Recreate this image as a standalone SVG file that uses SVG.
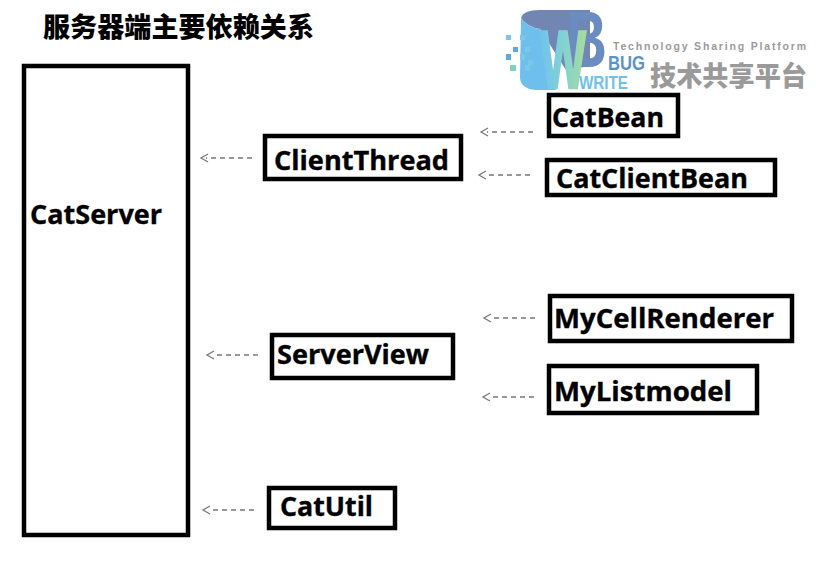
<svg xmlns="http://www.w3.org/2000/svg" width="816" height="585" viewBox="0 0 816 585">
<style>
.box{fill:#fff;stroke:#000;stroke-width:4.5}
.lbl{font-family:"Open Sans","Noto Sans",sans-serif;font-weight:700;fill:#000;stroke:#000;stroke-width:.35;font-size:26px}
.dep{fill:none;stroke:#777;stroke-width:1.4;stroke-dasharray:5 4}
.head{fill:none;stroke:#777;stroke-width:1.3}
.lg{font-family:"Liberation Sans",sans-serif;font-weight:700}
</style>
<defs>
<linearGradient id="w" gradientUnits="userSpaceOnUse" x1="540" y1="0" x2="586" y2="0"><stop offset="0" stop-color="#6fc3ee"/><stop offset="0.55" stop-color="#85d3d0"/><stop offset="1" stop-color="#a6dc9c"/></linearGradient>
</defs>
<rect width="816" height="585" fill="#fff"/>
<text x="43" y="37" style="font-family:'Noto Sans CJK SC',sans-serif;font-weight:900;font-size:27px" textLength="271" lengthAdjust="spacingAndGlyphs" fill="#000">服务器端主要依赖关系</text>

<g id="logo">
<path d="M521 18 Q523 10 540 10 L590 10 L590 66 L566 70 L540 29 Q527 27 521 18Z" fill="#7186b2"/>
<path d="M521 18 Q527 27 540 29 L556 90 L536 90 Q521 89 520 78Z" fill="#6fbfec"/>
<g fill="#7cc6e8"><rect x="506" y="35" width="5" height="5"/><rect x="520" y="35" width="5" height="5"/><rect x="513" y="47" width="5" height="5" fill="#5fa8de"/><rect x="525" y="47" width="5" height="5"/><rect x="506" y="54" width="5" height="6" fill="#5fa8de"/><rect x="520" y="54" width="5" height="6"/><rect x="528" y="60" width="5" height="5"/><rect x="525" y="65" width="5" height="6"/></g>
<rect x="510" y="65" width="6" height="6" fill="#7fd0c0"/>
<text class="lg" x="566" y="67" font-size="79" textLength="41" lengthAdjust="spacingAndGlyphs" fill="#6b8cc0">B</text>
<text class="lg" x="540" y="88" font-size="82" textLength="46" lengthAdjust="spacingAndGlyphs" fill="url(#w)" stroke="url(#w)" stroke-width="2.5">W</text>
<text class="lg" x="608" y="70" font-size="21" textLength="37" lengthAdjust="spacingAndGlyphs" fill="#5b93c9">BUG</text>
<text class="lg" x="579" y="89" font-size="19" textLength="49" lengthAdjust="spacingAndGlyphs" fill="#6ec1ea">WRITE</text>
<text class="lg" x="613" y="50" font-size="10.5" textLength="193" fill="#9a9a9a">Technology Sharing Platform</text>
<text x="650" y="86" style="font-family:'Noto Sans CJK SC',sans-serif;font-weight:900;font-size:27px" textLength="157" lengthAdjust="spacingAndGlyphs" fill="#9a9a9a">技术共享平台</text>
</g>

<g id="connectors">
<path class="dep" d="M252 158H206"/><path class="head" d="M208 154l-7 4 7 4"/>
<path class="dep" d="M533 132H487"/><path class="head" d="M488 128l-7 4 7 4"/>
<path class="dep" d="M530 175H485"/><path class="head" d="M486 171l-7 4 7 4"/>
<path class="dep" d="M535 318H490"/><path class="head" d="M491 314l-7 4 7 4"/>
<path class="dep" d="M534 397H489"/><path class="head" d="M490 393l-7 4 7 4"/>
<path class="dep" d="M258 355H213"/><path class="head" d="M214 351l-7 4 7 4"/>
<path class="dep" d="M254 510H209"/><path class="head" d="M210 506l-7 4 7 4"/>
</g>

<g id="CatServer"><rect class="box" x="24" y="66" width="164" height="469"/><text class="lbl" x="30" y="224" textLength="132" lengthAdjust="spacingAndGlyphs">CatServer</text></g>
<g id="ClientThread"><rect class="box" x="265" y="136" width="196" height="43"/><text class="lbl" x="274" y="170" textLength="175" lengthAdjust="spacingAndGlyphs">ClientThread</text></g>
<g id="CatBean"><rect class="box" x="549" y="95" width="129" height="41"/><text class="lbl" x="552" y="127" textLength="112" lengthAdjust="spacingAndGlyphs">CatBean</text></g>
<g id="CatClientBean"><rect class="box" x="547" y="160" width="228" height="35"/><text class="lbl" x="556" y="188" textLength="192" lengthAdjust="spacingAndGlyphs">CatClientBean</text></g>
<g id="ServerView"><rect class="box" x="272" y="335" width="181" height="43"/><text class="lbl" x="277" y="364" textLength="152" lengthAdjust="spacingAndGlyphs">ServerView</text></g>
<g id="MyCellRenderer"><rect class="box" x="550" y="296" width="242" height="45"/><text class="lbl" x="554" y="328" textLength="220" lengthAdjust="spacingAndGlyphs">MyCellRenderer</text></g>
<g id="MyListmodel"><rect class="box" x="549" y="366" width="208" height="47"/><text class="lbl" x="554" y="401" textLength="178" lengthAdjust="spacingAndGlyphs">MyListmodel</text></g>
<g id="CatUtil"><rect class="box" x="269" y="488" width="126" height="40"/><text class="lbl" x="280" y="516" textLength="93" lengthAdjust="spacingAndGlyphs">CatUtil</text></g>
</svg>
